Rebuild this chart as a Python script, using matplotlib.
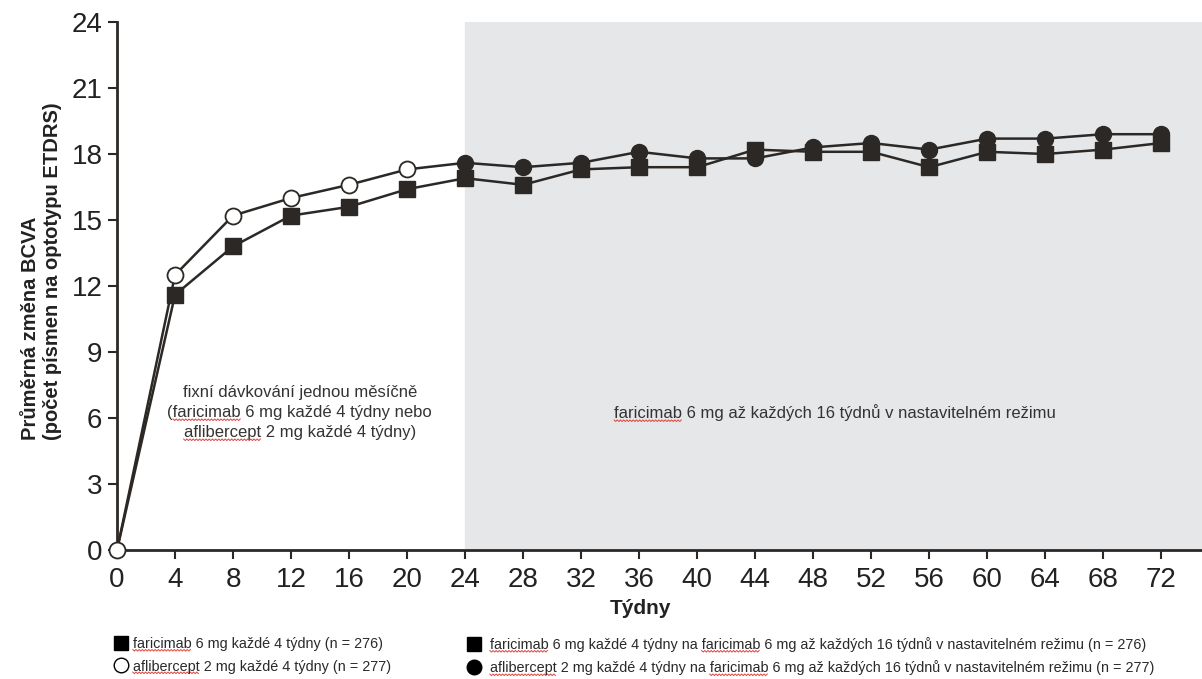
import matplotlib.pyplot as plt
from matplotlib.lines import Line2D
from matplotlib.transforms import IdentityTransform

plt.rcParams['font.family'] = ['Liberation Sans', 'DejaVu Sans']

# data
weeks_fixed = [0, 4, 8, 12, 16, 20]
weeks_all = [0, 4, 8, 12, 16, 20, 24, 28, 32, 36, 40, 44, 48, 52, 56, 60, 64, 68, 72]
faricimab = [0, 11.6, 13.8, 15.2, 15.6, 16.4, 16.9, 16.6, 17.3, 17.4, 17.4, 18.2,
             18.1, 18.1, 17.4, 18.1, 18.0, 18.2, 18.5]
aflibercept = [0, 12.5, 15.2, 16.0, 16.6, 17.3, 17.6, 17.4, 17.6, 18.1, 17.8, 17.8,
               18.3, 18.5, 18.2, 18.7, 18.7, 18.9, 18.9]
x_ticks = list(range(0, 73, 4))
y_ticks = [0, 3, 6, 9, 12, 15, 18, 21, 24]
fixed_lines = ['fixní dávkování jednou měsíčně',
               '(faricimab 6 mg každé 4 týdny nebo',
               'aflibercept 2 mg každé 4 týdny)']
adjust_text = 'faricimab 6 mg až každých 16 týdnů v nastavitelném režimu'
legend_left = ['faricimab 6 mg každé 4 týdny (n = 276)',
               'aflibercept 2 mg každé 4 týdny (n = 277)']
legend_right = ['faricimab 6 mg každé 4 týdny na faricimab 6 mg až každých 16 týdnů v nastavitelném režimu (n = 276)',
                'aflibercept 2 mg každé 4 týdny na faricimab 6 mg až každých 16 týdnů v nastavitelném režimu (n = 277)']

ink = '#2b2825'

fig = plt.figure(figsize=(12.02, 6.79), dpi=100)
ax = fig.add_axes([117 / 1202, 1 - 550 / 679, (1202 - 117) / 1202, (550 - 22) / 679])

#Gray shaded adjustable-regimen period.
ax.axvspan(24, 80, color='#e6e7e9', zorder=0)

#Lines first, then markers.
ax.plot(weeks_all, aflibercept, color=ink, lw=1.8, zorder=2)
ax.plot(weeks_all, faricimab, color=ink, lw=1.8, zorder=2)
n = len(weeks_fixed)
ax.plot(weeks_fixed, aflibercept[:n], ls='none', marker='o', ms=11.5, mfc='white',
        mec=ink, mew=1.3, zorder=5, clip_on=False)
ax.plot(weeks_all[n:], aflibercept[n:], ls='none', marker='o', ms=11.5, mfc=ink,
        mec=ink, zorder=3)
ax.plot(weeks_all[1:], faricimab[1:], ls='none', marker='s', ms=11, mfc=ink,
        mec=ink, zorder=4)

ax.set_xlim(0, 74.8)
ax.set_ylim(0, 24)
ax.set_xticks(x_ticks)
ax.set_yticks(y_ticks)
ax.tick_params(labelsize=20, length=6.5, width=1.5, color=ink, labelcolor='#222222')
ax.tick_params(axis='y', pad=4)
ax.tick_params(axis='x', pad=6)
for s in ['top', 'right']:
    ax.spines[s].set_visible(False)
for s in ['left', 'bottom']:
    ax.spines[s].set_linewidth(2)
    ax.spines[s].set_color(ink)
ax.patch.set_alpha(0)

#Annotations inside the plot, one line at a time.
ann = []
for yv, line in zip([7.18, 6.23, 5.32], fixed_lines):
    ann.append(ax.text(12.6, yv, line, ha='center', va='center', fontsize=12,
                       color='#333333'))
ann.append(ax.text(49.5, 6.23, adjust_text, ha='center', va='center', fontsize=12,
                   color='#333333'))

fig.text(41.5 / 1202, 1 - 271.5 / 679, 'Průměrná změna BCVA\n(počet písmen na optotypu ETDRS)',
         rotation=90, ha='center', va='center', multialignment='left', fontsize=14.5,
         fontweight='bold', color='#222222', linespacing=1.15)
fig.text(640 / 1202, 1 - 609 / 679, 'Týdny', ha='center', va='center', fontsize=15,
         fontweight='bold', color='#222222')

#Legend in two columns below the axis.
h_sq = Line2D([], [], ls='none', marker='s', ms=10.5, mfc='black', mec='black')
h_oc = Line2D([], [], ls='none', marker='o', ms=10.5, mfc='white', mec='black', mew=1)
h_fc = Line2D([], [], ls='none', marker='o', ms=10.5, mfc='black', mec='black')
leg1 = fig.legend([h_sq, h_oc], legend_left, loc='upper left',
                  bbox_to_anchor=(114 / 1202, 1 - 637 / 679), frameon=False,
                  fontsize=10.4, handletextpad=0.3, handlelength=1.0,
                  labelspacing=0.59, borderaxespad=0, borderpad=0)
leg2 = fig.legend([h_sq, h_fc], legend_right, loc='upper left',
                  bbox_to_anchor=(467 / 1202, 1 - 637 / 679), frameon=False,
                  fontsize=10.4, handletextpad=0.58, handlelength=1.0,
                  labelspacing=0.59, borderaxespad=0, borderpad=0)
for t in leg1.get_texts() + leg2.get_texts():
    t.set_color('#2a2a2a')

#Red spell-check squiggles under the drug names, as in the source document.
fig.canvas.draw()
renderer = fig.canvas.get_renderer()


def text_width(s, props):
    tmp = fig.text(0, 0, s, fontproperties=props)
    w = tmp.get_window_extent(renderer).width
    tmp.remove()
    return w


def squiggle(txt, word):
    s = txt.get_text()
    bb = txt.get_window_extent(renderer)
    props = txt.get_fontproperties()
    start = 0
    while True:
        i = s.find(word, start)
        if i < 0:
            break
        x1 = bb.x0 + text_width(s[:i + len(word)], props)
        x0 = x1 - text_width(word, props)
        y = bb.y0 + 1.5
        xs, ys = [], []
        k = 0
        xv = x0
        while xv <= x1:
            xs.append(xv)
            ys.append(y if k % 2 == 0 else y - 1.6)
            xv += 1.6
            k += 1
        fig.add_artist(Line2D(xs, ys, color='#e0443c', lw=0.7, transform=IdentityTransform()))
        start = i + len(word)


for t in ann + leg1.get_texts() + leg2.get_texts():
    squiggle(t, 'faricimab')
    squiggle(t, 'aflibercept')

fig.savefig('out.png', dpi=100)
